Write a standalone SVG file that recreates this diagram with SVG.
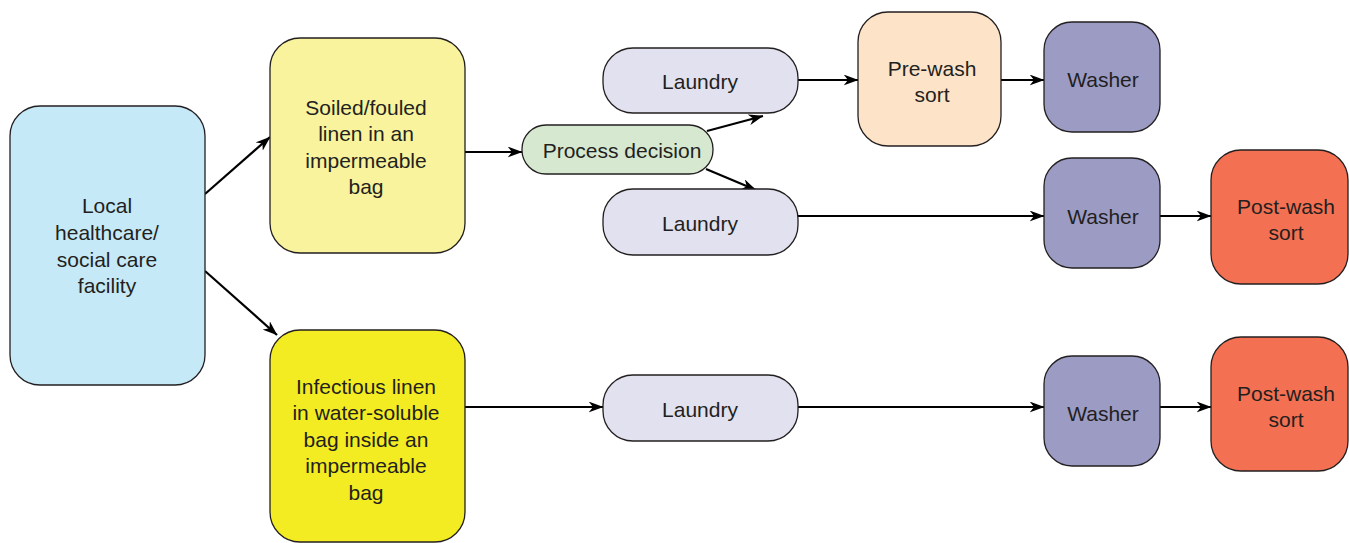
<svg xmlns="http://www.w3.org/2000/svg" width="1349" height="543" viewBox="0 0 1349 543">
<defs>
<style>
.box{stroke:#231f20;stroke-width:1.3}
.t{font-family:"Liberation Sans",Arial,sans-serif;font-size:21px;fill:#231f20;text-anchor:middle}
.c{stroke:#000;stroke-width:2.2;fill:none;marker-end:url(#ah)}
</style>
<marker id="ah" viewBox="0 0 15 11" refX="14.5" refY="5.5" markerWidth="15" markerHeight="11" markerUnits="userSpaceOnUse" orient="auto">
<path d="M0,0 L15,5.5 L0,11 L4.5,5.5 z" fill="#000"/>
</marker>
</defs>
<rect width="1349" height="543" fill="#fff"/>
<g id="connectors">
<line class="c" x1="205" y1="194" x2="270" y2="137"/>
<line class="c" x1="205" y1="271" x2="277" y2="335"/>
<line class="c" x1="465" y1="152" x2="522" y2="152"/>
<line class="c" x1="707" y1="131" x2="763" y2="116"/>
<line class="c" x1="706" y1="169" x2="756" y2="190"/>
<line class="c" x1="798" y1="80" x2="858" y2="80"/>
<line class="c" x1="1001" y1="80" x2="1044" y2="80"/>
<line class="c" x1="798" y1="216" x2="1044" y2="216"/>
<line class="c" x1="1160" y1="216" x2="1211" y2="216"/>
<line class="c" x1="465" y1="407" x2="603" y2="407"/>
<line class="c" x1="798" y1="407" x2="1044" y2="407"/>
<line class="c" x1="1160" y1="407" x2="1211" y2="407"/>
</g>
<g id="local">
<rect class="box" x="10" y="106" width="195" height="279" rx="30" fill="#c6e9f8"/>
<text class="t" x="107" y="213">Local</text>
<text class="t" x="107" y="240">healthcare/</text>
<text class="t" x="107" y="267">social care</text>
<text class="t" x="107" y="293">facility</text>
</g>
<g id="soiled">
<rect class="box" x="270" y="38" width="195" height="215" rx="30" fill="#f8f39c"/>
<text class="t" x="366" y="115">Soiled/fouled</text>
<text class="t" x="366" y="141">linen in an</text>
<text class="t" x="366" y="168">impermeable</text>
<text class="t" x="366" y="194">bag</text>
</g>
<g id="infectious">
<rect class="box" x="270" y="330" width="195" height="212" rx="30" fill="#f4ec22"/>
<text class="t" x="366" y="394">Infectious linen</text>
<text class="t" x="366" y="420">in water-soluble</text>
<text class="t" x="366" y="447">bag inside an</text>
<text class="t" x="366" y="473">impermeable</text>
<text class="t" x="366" y="500">bag</text>
</g>
<g id="process">
<rect class="box" x="522" y="125" width="191" height="49" rx="24" fill="#d6e8d0"/>
<text class="t" x="622" y="158">Process decision</text>
</g>
<g id="laundry1">
<rect class="box" x="603" y="48" width="195" height="65" rx="30" fill="#e1e1ef"/>
<text class="t" x="700" y="89">Laundry</text>
</g>
<g id="laundry2">
<rect class="box" x="603" y="189" width="195" height="66" rx="30" fill="#e1e1ef"/>
<text class="t" x="700" y="231">Laundry</text>
</g>
<g id="laundry3">
<rect class="box" x="603" y="375" width="195" height="66" rx="30" fill="#e1e1ef"/>
<text class="t" x="700" y="417">Laundry</text>
</g>
<g id="prewash">
<rect class="box" x="858" y="12" width="143" height="134" rx="30" fill="#fde3c8"/>
<text class="t" x="932" y="76">Pre-wash</text>
<text class="t" x="932" y="102">sort</text>
</g>
<g id="washer1">
<rect class="box" x="1044" y="22" width="116" height="110" rx="28" fill="#9b9bc4"/>
<text class="t" x="1103" y="87">Washer</text>
</g>
<g id="washer2">
<rect class="box" x="1044" y="158" width="116" height="110" rx="28" fill="#9b9bc4"/>
<text class="t" x="1103" y="224">Washer</text>
</g>
<g id="washer3">
<rect class="box" x="1044" y="356" width="116" height="110" rx="28" fill="#9b9bc4"/>
<text class="t" x="1103" y="421">Washer</text>
</g>
<g id="postwash1">
<rect class="box" x="1211" y="150" width="137" height="134" rx="30" fill="#f37152"/>
<text class="t" x="1286" y="214">Post-wash</text>
<text class="t" x="1286" y="240">sort</text>
</g>
<g id="postwash2">
<rect class="box" x="1211" y="337" width="137" height="134" rx="30" fill="#f37152"/>
<text class="t" x="1286" y="401">Post-wash</text>
<text class="t" x="1286" y="427">sort</text>
</g>
</svg>
